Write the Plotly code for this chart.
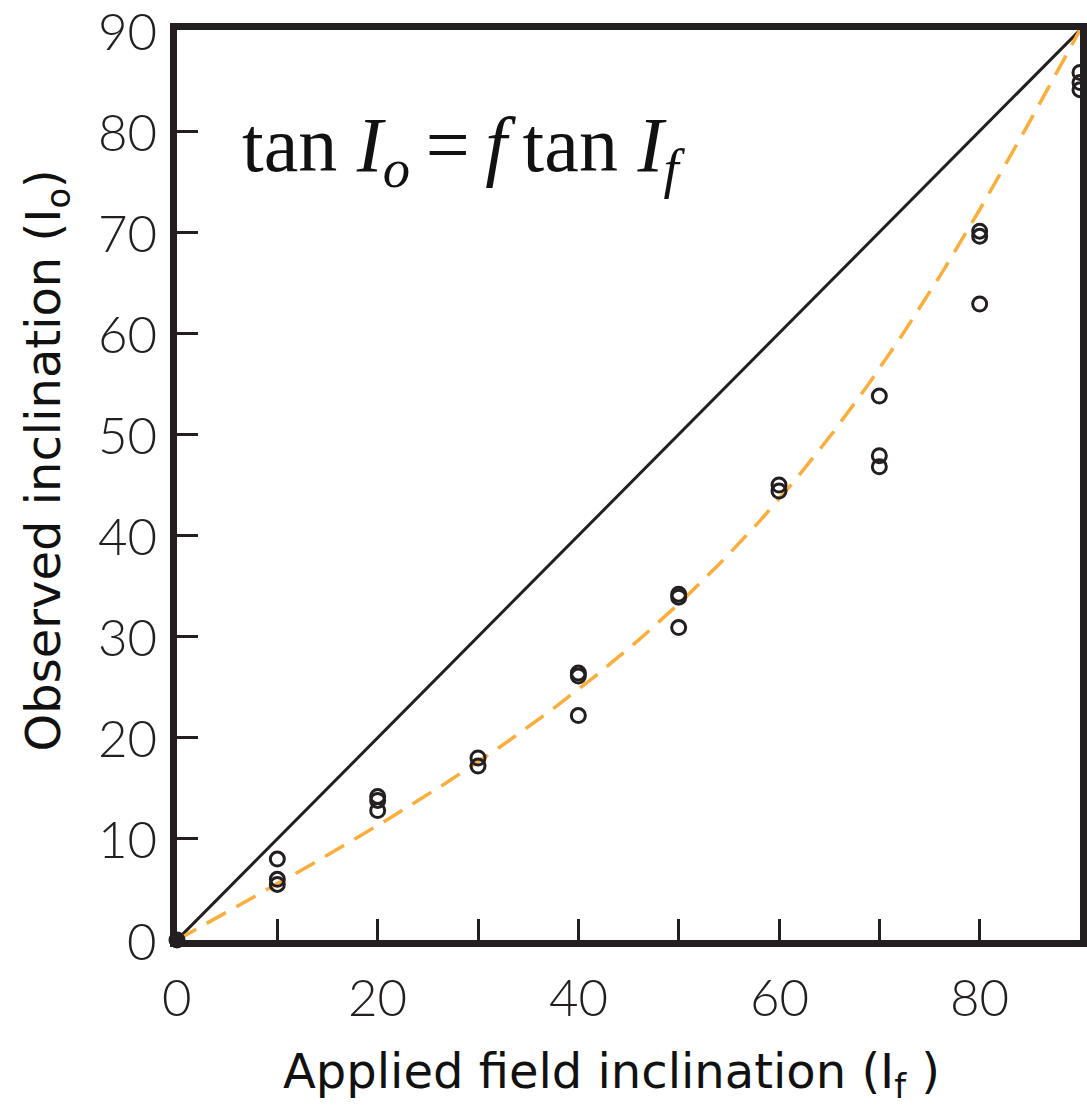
import plotly.graph_objects as go
import numpy as np

# Observed data (applied field inclination, observed inclination)
applied = [10, 10, 10, 20, 20, 20, 30, 30, 40, 40, 40, 50, 50, 50, 60, 60,
           70, 70, 70, 80, 80, 80, 90, 90, 90]
observed = [8.0, 6.0, 5.5, 14.2, 13.8, 12.8, 18.0, 17.2, 26.4, 26.1, 22.2,
            34.2, 33.9, 30.9, 45.0, 44.4, 53.8, 47.9, 46.8, 70.1, 69.6, 62.9,
            85.8, 84.8, 84.1]

# Flattening factor for model curve tan(Io) = f tan(If)
f_factor = 0.55
model_if = np.linspace(0, 90, 181)
model_io = np.degrees(np.arctan(f_factor * np.tan(np.radians(np.clip(model_if, 0, 89.999)))))
model_io[-1] = 90.0

x_tickvals = [0, 10, 20, 30, 40, 50, 60, 70, 80, 90]
x_labelvals = [0, 20, 40, 60, 80]
x_labeltext = ["0", "20", "40", "60", "80"]
y_tickvals = [0, 10, 20, 30, 40, 50, 60, 70, 80, 90]
y_ticktext = ["0", "10", "20", "30", "40", "50", "60", "70", "80", "90"]

ink = "#231f20"
fig = go.Figure()

fig.add_trace(go.Scatter(x=[0, 90], y=[0, 90], mode="lines",
                         line=dict(color=ink, width=3), showlegend=False))
fig.add_trace(go.Scatter(x=model_if, y=model_io, mode="lines",
                         line=dict(color="#fbae3c", width=3.5, dash="22px,12px"),
                         showlegend=False))
fig.add_trace(go.Scatter(x=applied, y=observed, mode="markers",
                         marker=dict(symbol="circle-open", size=14, color=ink,
                                     line=dict(color=ink, width=3)),
                         showlegend=False))
fig.add_trace(go.Scatter(x=[0], y=[0], mode="markers", cliponaxis=False,
                         marker=dict(symbol="circle", size=17, color=ink),
                         showlegend=False))

tick_font = dict(family="Lato", size=51, color=ink, weight=300)
title_font = dict(family="DejaVu Sans", size=48, color="#111111")

annotations = [
    dict(x=0.07, y=0.868, xref="paper", yref="paper", xanchor="left", yanchor="middle",
         text="tan <i>I</i><sub><i>o</i></sub>\u2009=\u2009<i>f</i>\u2009tan <i>I</i><sub><i>f</i></sub>",
         showarrow=False, font=dict(family="Liberation Serif", size=78, color="#111111")),
    dict(x=0.481, y=-0.148, xref="paper", yref="paper", xanchor="center", yanchor="middle",
         text="Applied field inclination (I<sub>f</sub> )", showarrow=False,
         font=title_font),
    dict(x=-0.145, y=0.527, xref="paper", yref="paper", xanchor="center", yanchor="middle",
         text="Observed inclination (I<sub>o</sub>)", showarrow=False, textangle=-90,
         font=title_font),
]
# tick labels as annotations (keeps the top "90" from being dropped at the figure edge)
for v, t in zip(y_tickvals, y_ticktext):
    annotations.append(dict(x=0, y=v, xref="paper", yref="y", xanchor="right",
                            yanchor="middle", xshift=-18, text=t, showarrow=False,
                            font=tick_font))
for v, t in zip(x_labelvals, x_labeltext):
    annotations.append(dict(x=v, y=0, xref="x", yref="paper", xanchor="center",
                            yanchor="middle", yshift=-56, text=t, showarrow=False,
                            font=tick_font))

fig.update_layout(
    width=1087, height=1110,
    margin=dict(l=177, r=0, t=30, b=170),
    plot_bgcolor="white", paper_bgcolor="white",
    xaxis=dict(range=[0, 90], tickvals=x_tickvals, showticklabels=False,
               ticks="inside", ticklen=21, tickwidth=3, tickcolor=ink,
               showline=True, linewidth=7, linecolor=ink, mirror=True,
               showgrid=False, zeroline=False),
    yaxis=dict(range=[0, 90], tickvals=y_tickvals, showticklabels=False,
               ticks="inside", ticklen=21, tickwidth=3, tickcolor=ink,
               showline=True, linewidth=7, linecolor=ink, mirror=True,
               showgrid=False, zeroline=False),
    annotations=annotations,
)

fig.write_html("out.html", config={"displayModeBar": False},
               post_script="document.body.style.margin='0';document.body.style.overflow='hidden';")
